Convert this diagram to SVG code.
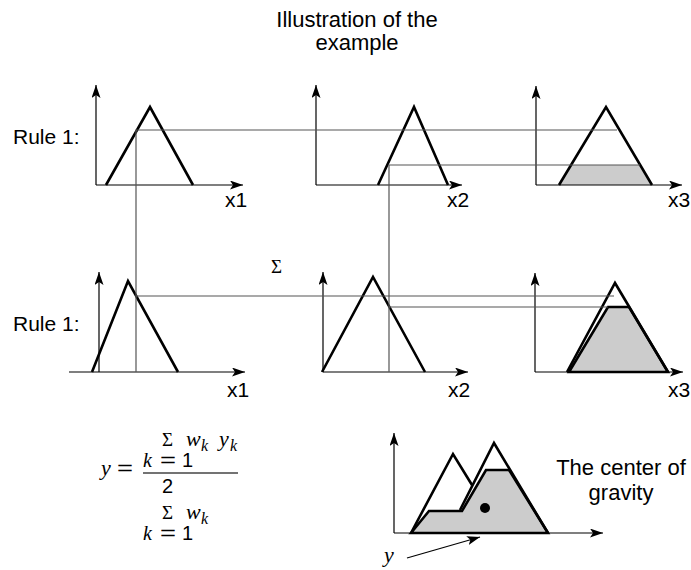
<svg xmlns="http://www.w3.org/2000/svg" width="691" height="570" viewBox="0 0 691 570">
<style>
.t{font-family:"Liberation Sans",Arial,sans-serif;font-size:21px;fill:#000}
.tl{font-family:"Liberation Sans",Arial,sans-serif;font-size:22px;fill:#000}
.n{font-family:"Liberation Sans",Arial,sans-serif;font-size:20px;fill:#000}
.eq{font-family:"Liberation Sans",Arial,sans-serif;font-size:21px;fill:#000}
.m{font-family:"Liberation Serif","Times New Roman",serif;font-style:italic;font-size:22px;fill:#000}
.k{font-family:"Liberation Serif","Times New Roman",serif;font-style:italic;font-size:20px;fill:#000}
.sub{font-family:"Liberation Serif","Times New Roman",serif;font-style:italic;font-size:16px;fill:#000}
.s{font-family:"Liberation Serif","Times New Roman",serif;font-size:19px;fill:#000}
.ax{stroke:#000;stroke-width:1.2;fill:none}
.tri{stroke:#000;stroke-width:2.6;fill:none;stroke-linejoin:miter}
.fill{fill:#cccccc;stroke:#000;stroke-width:2.6;stroke-linejoin:miter}
.thin{stroke:#555;stroke-width:1.2;fill:none}
</style>
<defs>
<marker id="ah" markerUnits="userSpaceOnUse" markerWidth="14" markerHeight="10" refX="13" refY="4.5" orient="auto">
<path d="M0,0 L13,4.5 L0,9 L3,4.5 z" fill="#000"/>
</marker>
</defs>
<rect width="691" height="570" fill="#fff"/>
<g id="title">
<text class="tl" x="357" y="27" text-anchor="middle">Illustration of the</text>
<text class="tl" x="357" y="50" text-anchor="middle">example</text>
</g>
<g id="labels">
<text class="t" x="13" y="144">Rule 1:</text>
<text class="t" x="13" y="331">Rule 1:</text>
<text class="t" x="225" y="207">x1</text>
<text class="t" x="447" y="207">x2</text>
<text class="t" x="668" y="207">x3</text>
<text class="t" x="227" y="397">x1</text>
<text class="t" x="448" y="397">x2</text>
<text class="t" x="668" y="397">x3</text>
<text class="s" x="271" y="273">Σ</text>
</g>
<g id="r1g1">
<line class="ax" x1="96" y1="185" x2="96" y2="85" marker-end="url(#ah)"/>
<line class="ax" x1="96" y1="185" x2="243" y2="185" marker-end="url(#ah)"/>
<polyline class="tri" points="106,185 150,107 193,185"/>
</g>
<g id="r1g2">
<line class="ax" x1="316" y1="185" x2="316" y2="85" marker-end="url(#ah)"/>
<line class="ax" x1="316" y1="185" x2="462" y2="185" marker-end="url(#ah)"/>
<polyline class="tri" points="378,185 414,107 448,185"/>
</g>
<g id="r1g3">
<polygon points="571,165 640,165 652,185 559,185" fill="#cccccc"/>
<line class="ax" x1="536" y1="185" x2="536" y2="86" marker-end="url(#ah)"/>
<line class="ax" x1="536" y1="185" x2="682" y2="185" marker-end="url(#ah)"/>
<polyline class="tri" points="559,185 606,107 652,185"/>
</g>
<g id="r2g1">
<line class="ax" x1="99" y1="372" x2="99" y2="272" marker-end="url(#ah)"/>
<line class="ax" x1="69" y1="372" x2="245" y2="372" marker-end="url(#ah)"/>
<polyline class="tri" points="92,372 128,281 178,372"/>
</g>
<g id="r2g2">
<line class="ax" x1="323" y1="372" x2="323" y2="272" marker-end="url(#ah)"/>
<line class="ax" x1="323" y1="372" x2="468" y2="372" marker-end="url(#ah)"/>
<polyline class="tri" points="322,372 373,277 425,372"/>
</g>
<g id="r2g3">
<polygon class="fill" points="569,372 608,307 629,307 668,372"/>
<line class="ax" x1="535" y1="372" x2="535" y2="273" marker-end="url(#ah)"/>
<line class="ax" x1="535" y1="372" x2="683" y2="372" marker-end="url(#ah)"/>
<polyline class="tri" points="567,372 615,283 668,372"/>
</g>
<g id="connectors">
<polyline class="thin" points="136,372 136,130 617,130"/>
<polyline class="thin" points="389,372 389,165 640,165"/>
<line class="thin" x1="136" y1="296" x2="614" y2="296"/>
<line class="thin" x1="389" y1="307" x2="608" y2="307"/>
<line class="ax" x1="407" y1="558" x2="480" y2="537" marker-end="url(#ah)"/>
</g>
<g id="result">
<polygon class="fill" points="411,533 429,511 462,511 486,470 509,470 548,533"/>
<line class="ax" x1="394" y1="533" x2="394" y2="433" marker-end="url(#ah)"/>
<line class="ax" x1="394" y1="533" x2="603" y2="533" marker-end="url(#ah)"/>
<polyline class="tri" points="411,533 453,454 472,485"/>
<polyline class="tri" points="460,510 494,443 548,533"/>
<circle cx="485" cy="508" r="5" fill="#000"/>
<text class="tl" x="621" y="475" text-anchor="middle">The center of</text>
<text class="tl" x="621" y="500" text-anchor="middle">gravity</text>
<text class="m" x="384" y="562">y</text>
</g>
<g id="formula">
<text class="m" x="101" y="475">y</text>
<text class="eq" x="117" y="475" textLength="16" lengthAdjust="spacingAndGlyphs">=</text>
<text class="s" x="162" y="446">Σ</text>
<text class="m" x="186" y="446">w</text>
<text class="sub" x="201" y="451">k</text>
<text class="m" x="219" y="446">y</text>
<text class="sub" x="230" y="451">k</text>
<text class="k" x="143" y="467">k</text>
<text class="eq" x="160" y="467" textLength="16" lengthAdjust="spacingAndGlyphs">=</text>
<text class="n" x="182" y="467">1</text>
<line x1="143" y1="473" x2="238" y2="473" stroke="#444" stroke-width="1.3"/>
<text class="n" x="162" y="493">2</text>
<text class="s" x="162" y="519">Σ</text>
<text class="m" x="186" y="519">w</text>
<text class="sub" x="201" y="524">k</text>
<text class="k" x="143" y="540">k</text>
<text class="eq" x="160" y="540" textLength="16" lengthAdjust="spacingAndGlyphs">=</text>
<text class="n" x="182" y="540">1</text>
</g>
</svg>
